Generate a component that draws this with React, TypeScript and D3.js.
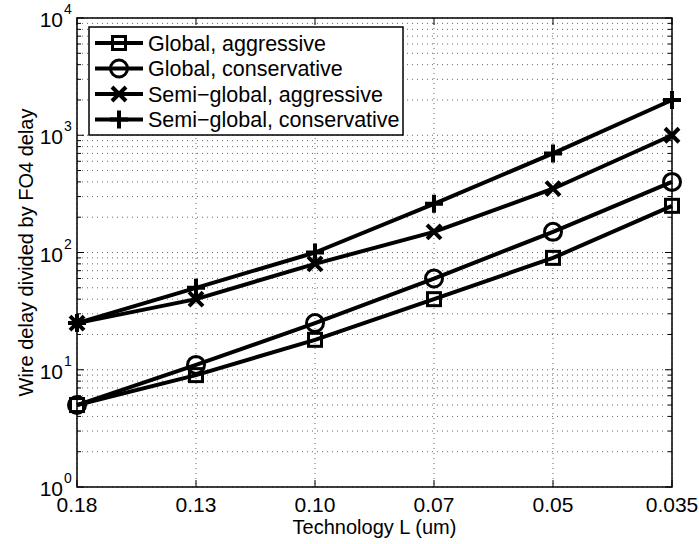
import React, { useEffect, useRef } from "react";
import * as d3 from "d3";

const categories = ["0.18", "0.13", "0.10", "0.07", "0.05", "0.035"];
const globalAggressive = [5, 9, 18, 40, 90, 250];
const globalConservative = [5, 11, 25, 60, 150, 400];
const semiAggressive = [25, 40, 80, 150, 350, 1000];
const semiConservative = [25, 50, 100, 260, 700, 2000];
const seriesNames = [
  "Global, aggressive",
  "Global, conservative",
  "Semi\u2212global, aggressive",
  "Semi\u2212global, conservative"
];
const markerTypes = ["square", "circle", "cross", "plus"];
const decades = [0, 1, 2, 3, 4];

const width = 699;
const height = 544;
const left = 77;
const right = 672;
const top = 18;
const bottom = 487;
const font = "'Liberation Sans', Arial, Helvetica, sans-serif";

function drawMarker(g: any, type: string, x: number, y: number) {
  if (type === "square") {
    g.append("rect")
      .attr("x", x - 6.5)
      .attr("y", y - 6.5)
      .attr("width", 13)
      .attr("height", 13)
      .attr("fill", "none")
      .attr("stroke", "#000")
      .attr("stroke-width", 3);
  } else if (type === "circle") {
    g.append("circle")
      .attr("cx", x)
      .attr("cy", y)
      .attr("r", 8.5)
      .attr("fill", "none")
      .attr("stroke", "#000")
      .attr("stroke-width", 3);
  } else if (type === "cross") {
    g.append("path")
      .attr("d", `M${x - 7},${y - 7}L${x + 7},${y + 7}M${x - 7},${y + 7}L${x + 7},${y - 7}`)
      .attr("stroke", "#000")
      .attr("stroke-width", 4);
  } else {
    g.append("path")
      .attr("d", `M${x - 9},${y}L${x + 9},${y}M${x},${y - 9}L${x},${y + 9}`)
      .attr("stroke", "#000")
      .attr("stroke-width", 4);
  }
}

export default function App() {
  const svgRef = useRef<SVGSVGElement | null>(null);

  useEffect(() => {
    const svg = d3.select(svgRef.current);
    svg.selectAll("*").remove();

    const x = d3.scalePoint<string>().domain(categories).range([left, right]);
    const y = d3.scaleLog().domain([1, 1e4]).range([bottom, top]);

    const series = [globalAggressive, globalConservative, semiAggressive, semiConservative];

    // grid
    const grid = svg.append("g");
    const minor: number[] = [];
    decades.slice(0, 4).forEach(d => {
      for (let k = 1; k <= 9; k++) minor.push(k * Math.pow(10, d));
    });
    minor.push(1e4);
    minor.forEach(v => {
      grid.append("line")
        .attr("x1", left)
        .attr("x2", right)
        .attr("y1", y(v))
        .attr("y2", y(v))
        .attr("stroke", "#666")
        .attr("stroke-width", 1)
        .attr("stroke-dasharray", "1,4");
    });
    categories.forEach(c => {
      grid.append("line")
        .attr("x1", x(c)!)
        .attr("x2", x(c)!)
        .attr("y1", top)
        .attr("y2", bottom)
        .attr("stroke", "#666")
        .attr("stroke-width", 1)
        .attr("stroke-dasharray", "1,4");
    });

    // ticks
    const ticks = svg.append("g").attr("stroke", "#000").attr("stroke-width", 1);
    minor.forEach(v => {
      const len = Number.isInteger(Math.log10(v)) ? 7 : 4;
      ticks.append("line").attr("x1", left).attr("x2", left + len).attr("y1", y(v)).attr("y2", y(v));
      ticks.append("line").attr("x1", right).attr("x2", right - len).attr("y1", y(v)).attr("y2", y(v));
    });
    categories.forEach(c => {
      ticks.append("line").attr("x1", x(c)!).attr("x2", x(c)!).attr("y1", bottom).attr("y2", bottom - 7);
      ticks.append("line").attr("x1", x(c)!).attr("x2", x(c)!).attr("y1", top).attr("y2", top + 7);
    });

    // box
    svg.append("rect")
      .attr("x", left)
      .attr("y", top)
      .attr("width", right - left)
      .attr("height", bottom - top)
      .attr("fill", "none")
      .attr("stroke", "#000")
      .attr("stroke-width", 1.5);

    // tick labels
    const labels = svg.append("g").attr("font-family", font).attr("fill", "#000");
    categories.forEach(c => {
      labels.append("text")
        .attr("x", x(c)!)
        .attr("y", bottom + 25)
        .attr("text-anchor", "middle")
        .attr("font-size", 21)
        .text(c);
    });
    decades.forEach(d => {
      labels.append("text")
        .attr("x", 63)
        .attr("y", y(Math.pow(10, d)) + 9)
        .attr("text-anchor", "end")
        .attr("font-size", 21)
        .text("10");
      labels.append("text")
        .attr("x", 64)
        .attr("y", y(Math.pow(10, d)) - 4)
        .attr("font-size", 14)
        .text(String(d));
    });

    labels.append("text")
      .attr("x", (left + right) / 2)
      .attr("y", 534)
      .attr("text-anchor", "middle")
      .attr("font-size", 20)
      .text("Technology L (um)");
    labels.append("text")
      .attr("transform", `translate(33,${(top + bottom) / 2}) rotate(-90)`)
      .attr("text-anchor", "middle")
      .attr("font-size", 20)
      .text("Wire delay divided by FO4 delay");

    // series
    const line = d3.line<number>()
      .x((_, i) => x(categories[i])!)
      .y(v => y(v));
    series.forEach((s, si) => {
      const g = svg.append("g");
      g.append("path")
        .attr("d", line(s))
        .attr("fill", "none")
        .attr("stroke", "#000")
        .attr("stroke-width", 4)
        .attr("stroke-linejoin", "round");
      s.forEach((v, i) => drawMarker(g, markerTypes[si], x(categories[i])!, y(v)));
    });

    // legend
    const legend = svg.append("g");
    legend.append("rect")
      .attr("x", 89)
      .attr("y", 27)
      .attr("width", 314)
      .attr("height", 108)
      .attr("fill", "#fff")
      .attr("stroke", "#000")
      .attr("stroke-width", 1.5);
    seriesNames.forEach((name, i) => {
      const ly = 43 + i * 25.5;
      legend.append("line")
        .attr("x1", 95)
        .attr("x2", 143)
        .attr("y1", ly)
        .attr("y2", ly)
        .attr("stroke", "#000")
        .attr("stroke-width", 4);
      drawMarker(legend, markerTypes[i], 119, ly);
      legend.append("text")
        .attr("x", 148)
        .attr("y", ly + 7.5)
        .attr("font-family", font)
        .attr("font-size", 21.5)
        .text(name);
    });
  }, []);

  return (
    <svg
      ref={svgRef}
      width={width}
      height={height}
      style={{ position: "absolute", left: 0, top: 0, background: "#fff" }}
    />
  );
}
